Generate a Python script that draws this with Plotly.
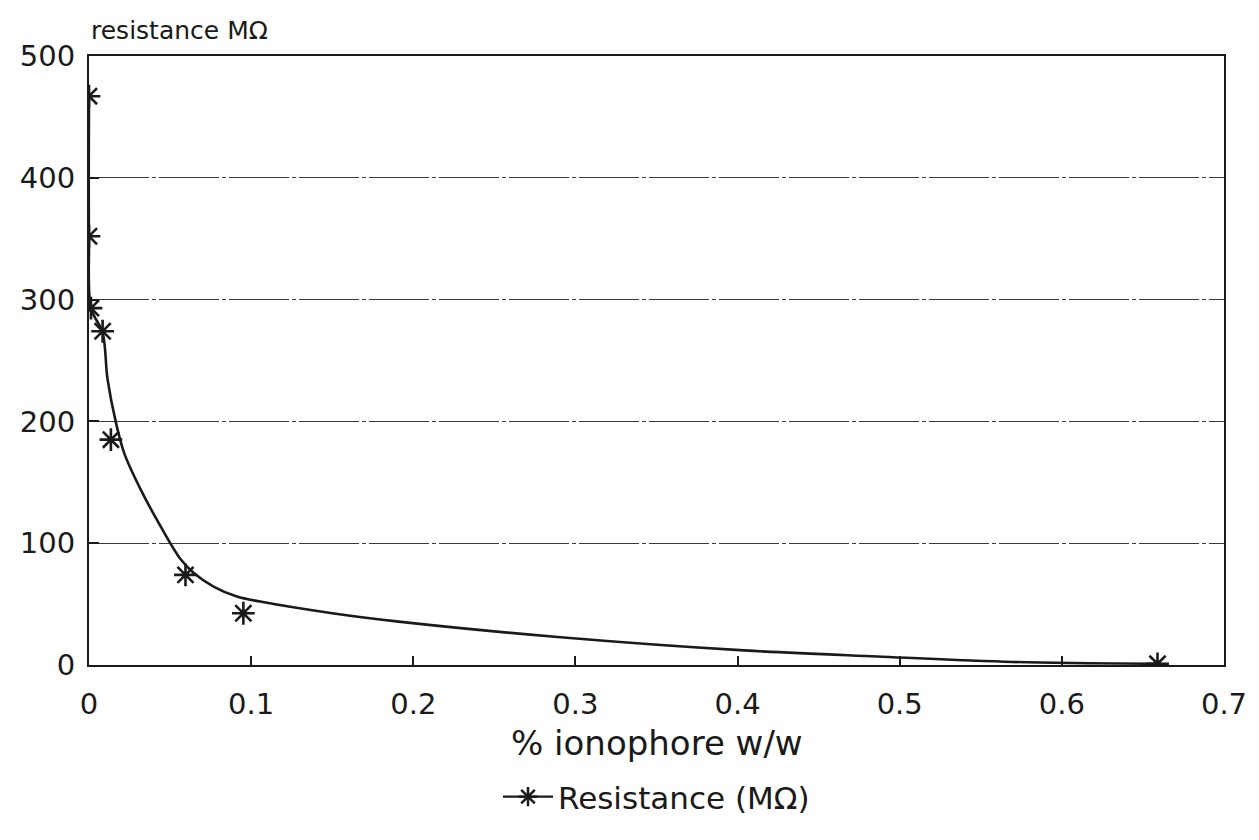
import plotly.graph_objects as go

# measured data points (% ionophore w/w, resistance MΩ)
ionophore = [0.0, 0.0, 0.0012, 0.0084, 0.0135, 0.0595, 0.0952, 0.659]
resistance = [467, 352, 293, 274, 185, 74, 42.5, 1]

# fitted curve
curve_x = [0.0, 0.0, 0.0012, 0.0084, 0.0114, 0.0166, 0.0217, 0.0319, 0.0441,
           0.0564, 0.0646, 0.0768, 0.0912, 0.1055, 0.15, 0.191, 0.289, 0.404,
           0.486, 0.57, 0.659]
curve_y = [467, 352, 293, 273, 235, 199, 174, 144, 114,
           87, 75.5, 64.4, 56.2, 52.1, 42.5, 35.6, 23, 12,
           7, 2.5, 1]

x_ticks = [0, 0.1, 0.2, 0.3, 0.4, 0.5, 0.6, 0.7]
x_ticklabels = ["0", "0.1", "0.2", "0.3", "0.4", "0.5", "0.6", "0.7"]
y_ticks = [0, 100, 200, 300, 400, 500]

FONT = "DejaVu Sans"
INK = "#1a1a1a"

fig = go.Figure()
fig.add_trace(go.Scatter(
    x=curve_x, y=curve_y, mode="lines",
    line=dict(color=INK, width=2.6, shape="spline", smoothing=0.9),
    showlegend=False, hoverinfo="skip"))
fig.add_trace(go.Scatter(
    x=ionophore, y=resistance, mode="markers",
    marker=dict(symbol="asterisk-open", size=19, color=INK,
                line=dict(color=INK, width=2.6)),
    showlegend=False))
# legend entry
fig.add_trace(go.Scatter(
    x=[None], y=[None], mode="lines+markers", name="Resistance (MΩ)",
    line=dict(color=INK, width=2.4),
    marker=dict(symbol="asterisk-open", size=16, color=INK,
                line=dict(color=INK, width=2.5))))

# the page adds an 8px body margin, so the figure is sized to fit the window
fig.update_layout(
    width=1251, height=832,
    margin=dict(l=80, r=29, t=48, b=175),
    paper_bgcolor="white", plot_bgcolor="white",
    font=dict(family=FONT, color=INK, size=29),
    showlegend=True,
    legend=dict(orientation="h", x=0.5, xanchor="center",
                y=-(797 - 665) / 609, yanchor="middle",
                font=dict(size=31, family=FONT, color=INK),
                itemwidth=50),
    xaxis=dict(range=[0, 0.7], tickvals=x_ticks, ticktext=x_ticklabels,
               showgrid=False, zeroline=False,
               showline=True, linecolor=INK, linewidth=2, mirror=True,
               ticks="inside", ticklen=9, tickwidth=1.5, tickcolor=INK,
               ticklabelstandoff=12,
               tickfont=dict(size=29, family=FONT, color=INK)),
    yaxis=dict(range=[0, 500], tickvals=y_ticks,
               showgrid=True, gridcolor="#3a3a3a", gridwidth=1.2,
               griddash="60px,3px,4px,3px",
               zeroline=False,
               showline=True, linecolor=INK, linewidth=2, mirror=True,
               ticks="inside", ticklen=10, tickwidth=1.5, tickcolor=INK,
               ticklabelstandoff=6,
               tickfont=dict(size=29, family=FONT, color=INK)),
    annotations=[
        dict(text="resistance MΩ", xref="paper", yref="paper", x=0, y=1,
             xanchor="left", yanchor="middle", yshift=26, xshift=0,
             showarrow=False, font=dict(size=25, family=FONT, color=INK)),
        dict(text="% ionophore w/w", xref="paper", yref="paper", x=0.5, y=0,
             xanchor="center", yanchor="middle", yshift=-78,
             showarrow=False, font=dict(size=34, family=FONT, color=INK)),
    ],
)

fig.write_html("out.html")
